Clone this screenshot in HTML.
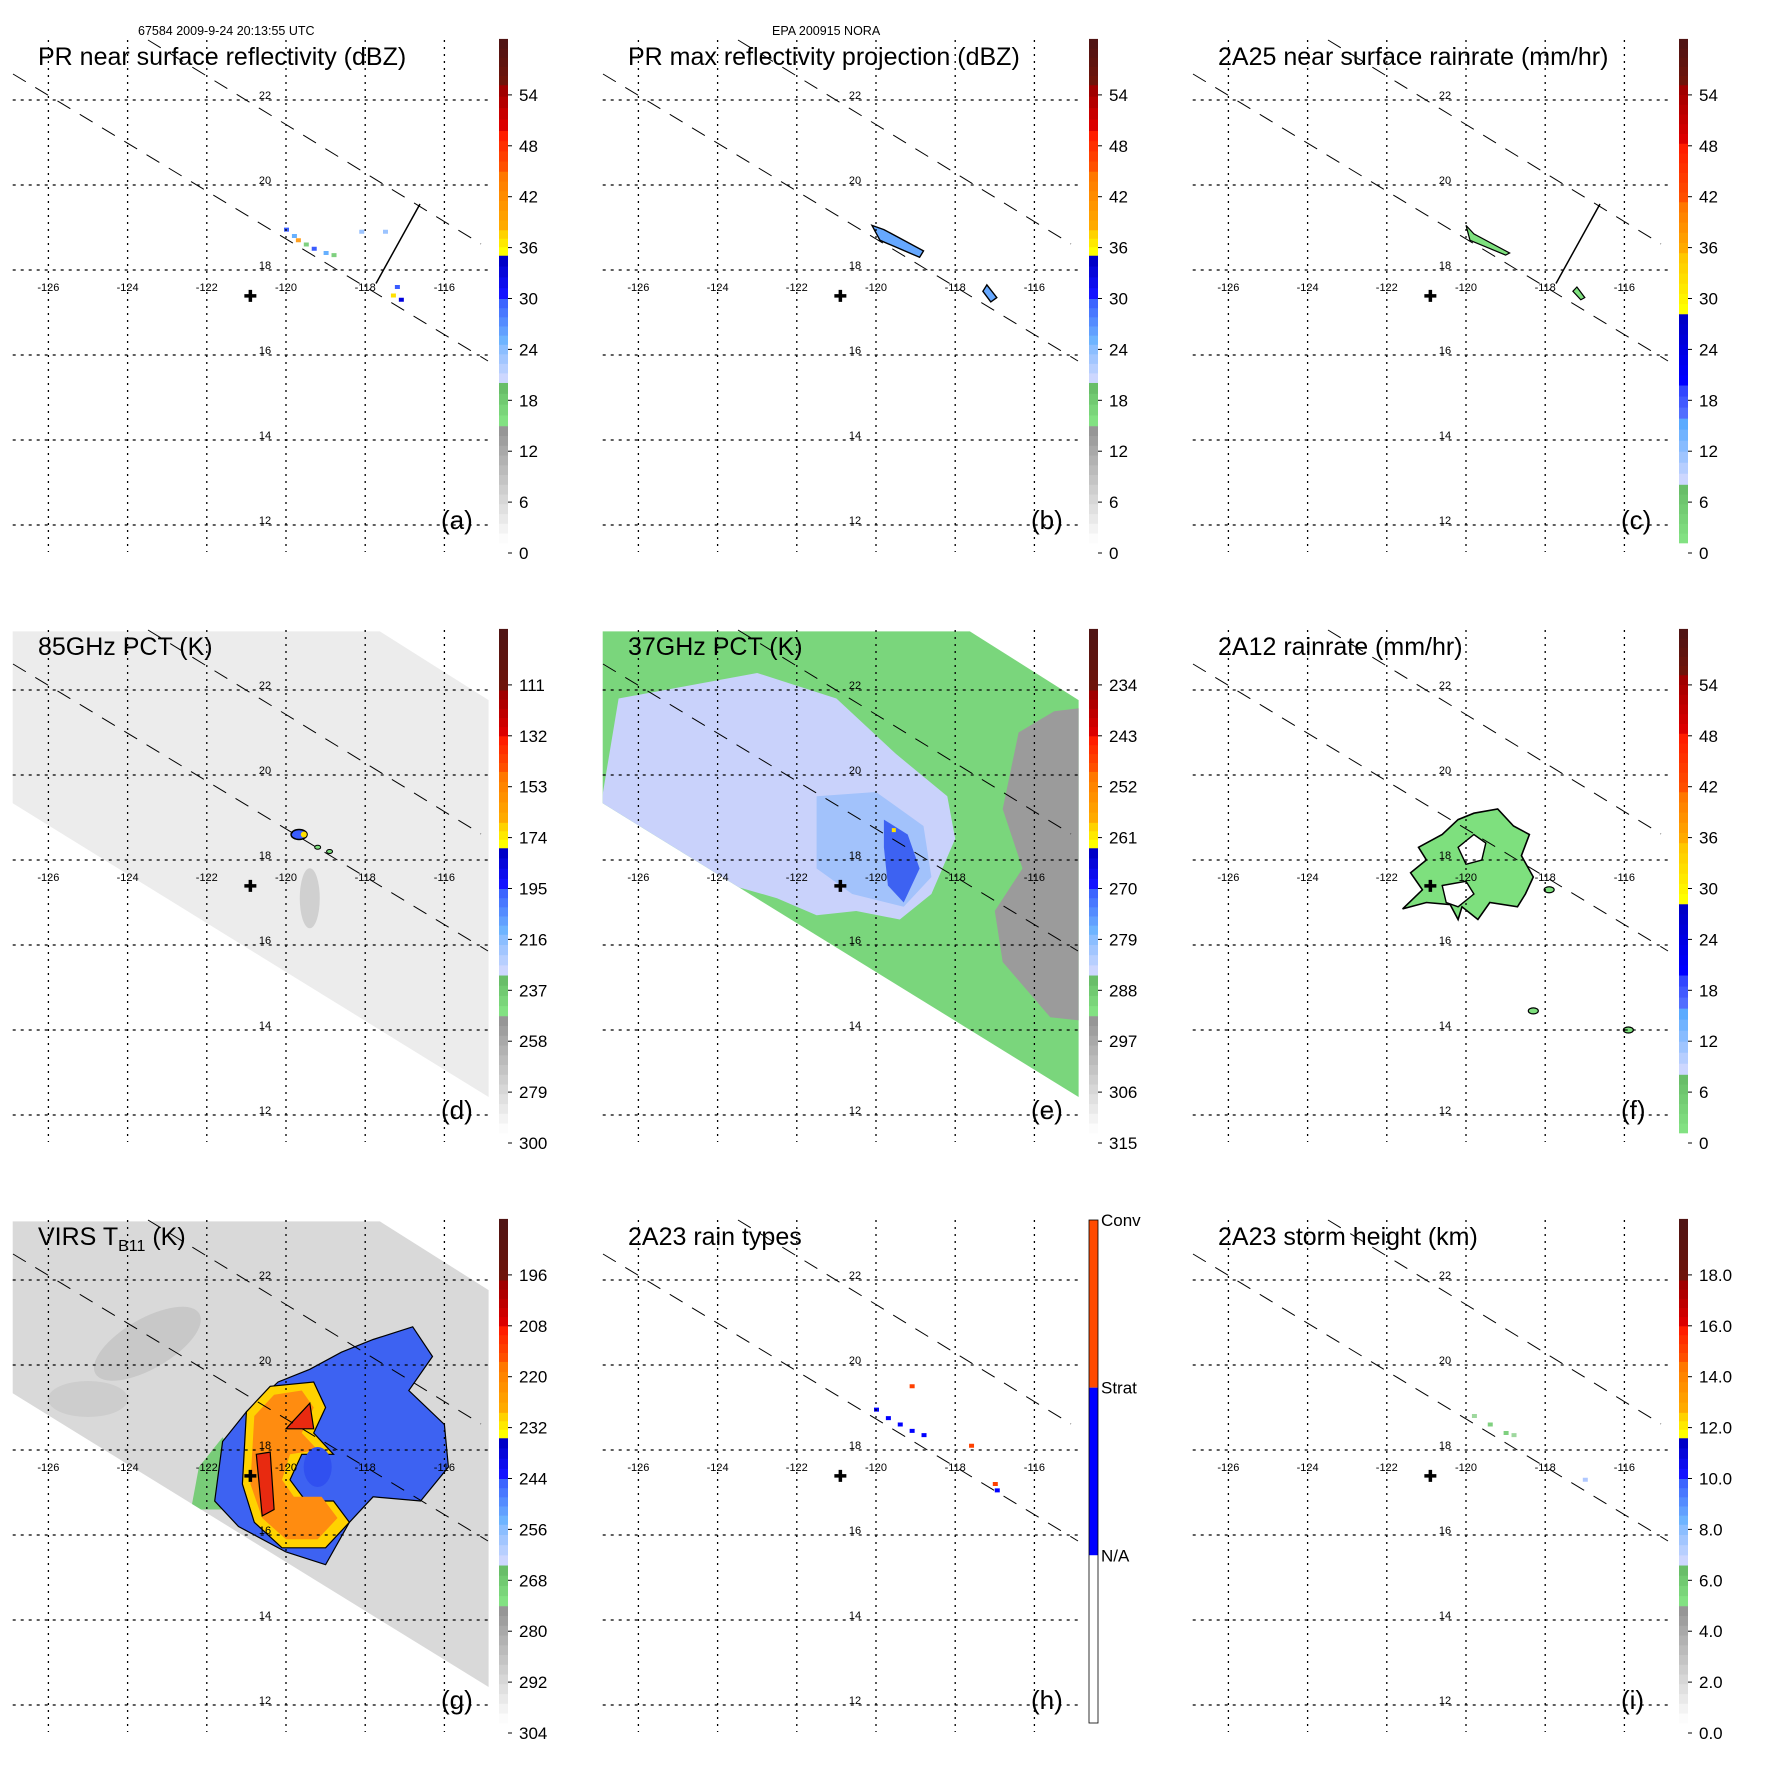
<!DOCTYPE html>
<html><head><meta charset="utf-8">
<style>
html,body{margin:0;padding:0;background:#fff;}
svg{display:block;font-family:"Liberation Sans",sans-serif;}
</style></head>
<body>
<svg id="fig" width="1771" height="1771" viewBox="0 0 1771 1771" xmlns="http://www.w3.org/2000/svg">
<text x="138" y="35" font-size="12.5">67584 2009-9-24 20:13:55 UTC</text>
<text x="772" y="35" font-size="12.5">EPA 200915 NORA</text>
</svg>
<script>
const lonTicks=[-126,-124,-122,-120,-118,-116];
const latTicks=[22,20,18,16,14,12];
const panelTitles=["PR near surface reflectivity (dBZ)","PR max reflectivity projection (dBZ)","2A25 near surface rainrate (mm/hr)","85GHz PCT (K)","37GHz PCT (K)","2A12 rainrate (mm/hr)","VIRS","2A23 rain types","2A23 storm height (km)"];
const panelLetters=["(a)","(b)","(c)","(d)","(e)","(f)","(g)","(h)","(i)"];
const cbLabels=[
 ["0","6","12","18","24","30","36","42","48","54"],
 ["0","6","12","18","24","30","36","42","48","54"],
 ["0","6","12","18","24","30","36","42","48","54"],
 ["300","279","258","237","216","195","174","153","132","111"],
 ["315","306","297","288","279","270","261","252","243","234"],
 ["0","6","12","18","24","30","36","42","48","54"],
 ["304","292","280","268","256","244","232","220","208","196"],
 null,
 ["0.0","2.0","4.0","6.0","8.0","10.0","12.0","14.0","16.0","18.0"]];
const stormCenter=[-120.9,17.39];
const swathA=[[-126.91,23.38],[-117.63,23.38],[-114.88,21.76],[-114.88,12.42],[-126.91,19.34]];
const fBlob=[[-121.2,18.3],[-120.6,18.6],[-120.2,18.95],[-119.8,19.1],[-119.2,19.2],[-118.8,18.8],[-118.4,18.6],[-118.6,18.1],[-118.3,17.6],[-118.5,17.2],[-118.7,16.9],[-119.4,17.0],[-119.7,16.6],[-120.1,16.9],[-120.2,16.6],[-120.4,16.95],[-121.0,17.0],[-121.6,16.85],[-121.1,17.3],[-121.4,17.7],[-121.0,18.0]];
const fHole1=[[-120.2,18.3],[-119.8,18.6],[-119.5,18.4],[-119.6,18.0],[-120.0,17.9]];
const fHole2=[[-120.6,17.4],[-120.0,17.5],[-119.8,17.2],[-120.2,16.9],[-120.5,17.0]];
const eLav=[[-126.5,21.8],[-123,22.4],[-121,21.8],[-119.5,20.5],[-118.2,19.5],[-118,18.5],[-118.6,17.2],[-119.4,16.6],[-120.5,16.8],[-121.5,16.7],[-122.5,17.1],[-124,17.5],[-125.5,18.3],[-127,19.0]];
const eLb=[[-121.5,19.5],[-120,19.6],[-118.8,18.8],[-118.6,17.6],[-119.3,16.9],[-120.6,17.2],[-121.5,17.8]];
const eBlue=[[-119.8,18.95],[-119.2,18.6],[-118.9,17.8],[-119.3,17.0],[-119.7,17.4],[-119.8,18.3]];
const eGray=[[-116.4,21.0],[-115.5,21.5],[-114.6,21.6],[-114.6,14.2],[-115.6,14.3],[-116.8,15.6],[-117.0,16.8],[-116.3,17.8],[-116.8,19.2]];
const gBlue=[[-121.6,18.2],[-121.0,18.9],[-120.2,19.6],[-119.4,19.9],[-118.6,20.3],[-117.8,20.6],[-116.8,20.9],[-116.3,20.2],[-116.9,19.4],[-116.0,18.6],[-115.9,17.6],[-116.6,16.8],[-117.8,16.9],[-118.4,16.3],[-119.0,15.3],[-120.0,15.6],[-121.2,16.2],[-121.8,16.8]];
const gGreen=[[-122.4,16.6],[-122.2,17.6],[-121.6,18.3],[-121.1,17.6],[-121.3,16.6]];
const gYellow=[[-121.0,18.9],[-120.4,19.5],[-119.3,19.6],[-119.0,19.0],[-119.3,18.4],[-118.8,17.9],[-119.6,17.9],[-119.9,17.3],[-119.5,16.8],[-118.8,16.8],[-118.4,16.3],[-119.0,15.7],[-120.1,15.7],[-120.8,16.3],[-121.1,17.2]];
const gOrange=[[-120.8,18.8],[-120.3,19.3],[-119.6,19.4],[-119.3,19.0],[-119.6,18.4],[-119.2,18.0],[-119.9,17.9],[-120.1,17.3],[-119.8,16.9],[-119.1,16.9],[-118.7,16.4],[-119.2,15.9],[-120.0,15.9],[-120.6,16.4],[-120.9,17.2]];
const gRed1=[[-120.75,17.9],[-120.4,17.95],[-120.3,16.6],[-120.6,16.45]];
const gRed2=[[-120.0,18.5],[-119.4,19.1],[-119.3,18.5]];
const aSpecks=[[-120.0,18.95,"#3a5cff"],[-119.8,18.8,"#66b0ff"],[-119.7,18.7,"#ffa020"],[-119.5,18.6,"#7fd07f"],[-119.3,18.5,"#3a5cff"],[-119.0,18.4,"#66b0ff"],[-118.8,18.35,"#7fd07f"],[-117.2,17.6,"#3a5cff"],[-117.1,17.3,"#0000dd"],[-117.3,17.4,"#ffe000"],[-118.1,18.9,"#9cc4ff"],[-117.5,18.9,"#9cc4ff"]];
const hSpecks=[[-120.0,18.95,"#0000ff"],[-119.7,18.75,"#0000ff"],[-119.4,18.6,"#0000ff"],[-119.1,18.45,"#0000ff"],[-118.8,18.35,"#0000ff"],[-119.1,19.5,"#ff4000"],[-117.0,17.2,"#ff4000"],[-116.95,17.05,"#0000ff"],[-117.6,18.1,"#ff4000"]];
const iSpecks=[[-119.8,18.8,"#9ed89e"],[-119.4,18.6,"#7fd07f"],[-119.0,18.4,"#7fd07f"],[-118.8,18.35,"#9ed89e"],[-117.0,17.3,"#b0c8ff"]];

const NS="http://www.w3.org/2000/svg";
const svg=document.getElementById('fig');
function X(lon){return 48.4+(lon+126)*39.6;}
function Y(lat){return 100+(22-lat)*42.5;}
function el(tag,attrs,parent){const e=document.createElementNS(NS,tag);for(const k in attrs)e.setAttribute(k,attrs[k]);(parent||svg).appendChild(e);return e;}
function pts(arr){return arr.map(p=>X(p[0]).toFixed(1)+","+Y(p[1]).toFixed(1)).join(" ");}
function lerp(a,b,t){return a.map((v,i)=>Math.round(v+(b[i]-v)*t));}
function rgb(c){return "rgb("+c.join(",")+")";}

const palettes={
 dbz:[[0.2,2.5,[252,252,252],[150,150,150]],[2.5,3.35,[130,225,130],[105,190,105]],[3.35,4.1,[205,215,255],[140,190,255]],[4.1,5.0,[110,180,255],[60,100,255]],[5.0,5.85,[20,20,255],[0,0,200]],[5.85,6.35,[255,255,0],[255,210,0]],[6.35,7.5,[255,170,0],[255,120,0]],[7.5,8.3,[255,80,0],[255,30,0]],[8.3,9.2,[220,0,0],[160,0,0]],[9.2,10.1,[110,20,10],[80,20,20]]],
 rain:[[0.2,1.35,[130,225,130],[105,190,105]],[1.35,2.65,[205,215,255],[90,170,255]],[2.65,3.3,[80,110,255],[50,70,255]],[3.3,4.7,[0,0,255],[0,0,200]],[4.7,5.9,[255,255,0],[255,200,0]],[5.9,6.9,[255,170,0],[255,120,0]],[6.9,8.05,[255,80,0],[255,30,0]],[8.05,9.2,[220,0,0],[160,0,0]],[9.2,10.1,[110,20,10],[80,20,20]]],
 tb:[[0.2,2.5,[252,252,252],[150,150,150]],[2.5,3.3,[130,225,130],[105,190,105]],[3.3,4.1,[205,215,255],[140,190,255]],[4.1,5.0,[110,180,255],[60,100,255]],[5.0,5.8,[20,20,255],[0,0,200]],[5.8,6.3,[255,255,0],[255,210,0]],[6.3,7.3,[255,170,0],[255,120,0]],[7.3,8.0,[255,80,0],[255,30,0]],[8.0,8.9,[220,0,0],[160,0,0]],[8.9,10.1,[110,20,10],[80,20,20]]]
};
const panelPal=["dbz","dbz","rain","tb","tb","rain","tb",null,"tb"];

function cbY(i){return 553-50.9*i;}

for(let p=0;p<9;p++){
 const ox=(p%3)*590, oy=Math.floor(p/3)*590;
 const g=el('g',{transform:`translate(${ox},${oy})`});
 
 
 const cid='clip'+p;
 const cp=el('clipPath',{id:cid},g);
 el('rect',{x:12.7,y:40,width:476,height:512},cp);
 const mg=el('g',{'clip-path':`url(#${cid})`},g);
 
 
 if(p===3||p===4||p===6){
  const sid='sw'+p;
  const sc=el('clipPath',{id:sid},g);
  el('polygon',{points:pts(swathA)},sc);
  const bg={3:"#ececec",4:"#7ad67c",6:"#d9d9d9"}[p];
  const sw=el('polygon',{points:pts(swathA),fill:bg},mg);
  
  
  const sg=el('g',{'clip-path':`url(#${sid})`},mg);
  if(p===3){
   el('ellipse',{cx:X(-119.4),cy:Y(17.1),rx:10,ry:30,fill:"#c4c4c4",opacity:0.7},sg);
   el('ellipse',{cx:X(-119.67),cy:Y(18.6),rx:8,ry:5,fill:"#3a5cff",stroke:"#000","stroke-width":1.5},sg);
   el('circle',{cx:X(-119.55),cy:Y(18.6),r:3,fill:"#ffe000"},sg);
   el('ellipse',{cx:X(-119.2),cy:Y(18.3),rx:3,ry:2,fill:"#7ee07e",stroke:"#000","stroke-width":1},sg);
   el('ellipse',{cx:X(-118.9),cy:Y(18.2),rx:3,ry:2,fill:"#7ee07e",stroke:"#000","stroke-width":1},sg);
  }
  if(p===4){
   el('polygon',{points:pts(eGray),fill:"#9b9b9b"},sg);
   el('polygon',{points:pts(eLav),fill:"#c9d2fb"},sg);
   el('polygon',{points:pts(eLb),fill:"#a2c2fb"},sg);
   el('polygon',{points:pts(eBlue),fill:"#3d62f2"},sg);
   el('rect',{x:X(-119.6),y:Y(18.75),width:4,height:4,fill:"#ffe000"},sg);
  }
  if(p===6){
   el('ellipse',{cx:X(-123.5),cy:Y(20.5),rx:60,ry:25,fill:"#bdbdbd",opacity:0.6,transform:`rotate(-30 ${X(-123.5)} ${Y(20.5)})`},sg);
   el('ellipse',{cx:X(-125),cy:Y(19.2),rx:40,ry:18,fill:"#c4c4c4",opacity:0.6},sg);
   el('polygon',{points:pts(gGreen),fill:"#78cc78"},sg);
   el('polygon',{points:pts(gBlue),fill:"#3d62f2",stroke:"#000","stroke-width":1.2},sg);
   el('polygon',{points:pts(gYellow),fill:"#ffd200",stroke:"#000","stroke-width":1.2},sg);
   el('polygon',{points:pts(gOrange),fill:"#ff8c10"},sg);
   el('polygon',{points:pts(gRed1),fill:"#e82a10",stroke:"#000","stroke-width":1.2},sg);
   el('polygon',{points:pts(gRed2),fill:"#e82a10",stroke:"#000","stroke-width":1.2},sg);
   el('ellipse',{cx:X(-119.2),cy:Y(17.6),rx:14,ry:20,fill:"#3050f0"},sg);
  }
 }
 if(p===5){
  el('polygon',{points:pts(fBlob),fill:"#7ee07e",stroke:"#000","stroke-width":1.6},mg);
  el('polygon',{points:pts(fHole1),fill:"#fff",stroke:"#000","stroke-width":1.4},mg);
  el('polygon',{points:pts(fHole2),fill:"#fff",stroke:"#000","stroke-width":1.4},mg);
  [[-117.9,17.3],[-118.3,14.45],[-115.9,14.0]].forEach(c=>{el('ellipse',{cx:X(c[0]),cy:Y(c[1]),rx:5,ry:3,fill:"#7ee07e",stroke:"#000","stroke-width":1.2},mg);});
 }
 if(p===1){
  el('polygon',{points:pts([[-120.1,19.05],[-119.8,18.95],[-118.8,18.45],[-118.9,18.3],[-119.9,18.7]]),fill:"#66a8ff",stroke:"#000","stroke-width":1.4},mg);
  el('polygon',{points:pts([[-117.2,17.65],[-116.95,17.35],[-117.1,17.25],[-117.3,17.5]]),fill:"#66a8ff",stroke:"#000","stroke-width":1.4},mg);
 }
 if(p===2){
  el('polygon',{points:pts([[-120.0,19.05],[-119.8,18.85],[-118.9,18.4],[-119.0,18.35],[-119.9,18.7]]),fill:"#7ee07e",stroke:"#000","stroke-width":1.2},mg);
  el('polygon',{points:pts([[-117.2,17.6],[-117.0,17.35],[-117.1,17.3],[-117.3,17.5]]),fill:"#7ee07e",stroke:"#000","stroke-width":1.2},mg);
 }
 const specks={0:aSpecks,7:hSpecks,8:iSpecks}[p];
 if(specks){specks.forEach(s=>{el('rect',{x:X(s[0])-2,y:Y(s[1])-2,width:5,height:4,fill:s[2]},mg);});}
 lonTicks.forEach(lon=>{const l=el('line',{x1:X(lon),x2:X(lon),y1:40,y2:552,stroke:"#000","stroke-width":1.3,"stroke-dasharray":"2,5"},g);});
 latTicks.forEach(lat=>{const l=el('line',{x1:12.7,x2:490,y1:Y(lat),y2:Y(lat),stroke:"#000","stroke-width":1.3,"stroke-dasharray":"3,5"},g);});
 const d1=el('line',{x1:148,y1:40,x2:481,y2:244,stroke:"#000","stroke-width":1,"stroke-dasharray":"15,11"},g);
 
 const d2=el('line',{x1:13,y1:74,x2:488,y2:361,stroke:"#000","stroke-width":1,"stroke-dasharray":"15,11"},g);
 
 if(p===0||p===2){const cs=el('line',{x1:420,y1:204,x2:376,y2:283.5,stroke:"#000","stroke-width":1.5},g);}
 lonTicks.forEach(lon=>{const t=el('text',{x:X(lon),y:291,'font-size':11,'text-anchor':'middle'},g);t.textContent=String(lon);});
 latTicks.forEach(lat=>{const t=el('text',{x:265,y:Y(lat)-1,'font-size':11,'text-anchor':'middle'},g);t.textContent=String(lat);});
 const cx=X(stormCenter[0]),cy=Y(stormCenter[1]);
 const cr=el('path',{d:`M${cx-6},${cy}H${cx+6}M${cx},${cy-6}V${cy+6}`,stroke:"#000","stroke-width":3.5},g);
 
 const tt=el('text',{x:38,y:65,'font-size':25},g);
 
 if(p===6){tt.textContent="VIRS T";const s=el('tspan',{'font-size':16,dy:6},tt);s.textContent="B11";const s2=el('tspan',{dy:-6},tt);s2.textContent=" (K)";}
 else tt.textContent=panelTitles[p];
 const lt=el('text',{x:441,y:529,'font-size':26},g);lt.textContent=panelLetters[p];
 
 const cb=el('g',{},g);
 
 if(panelPal[p]){
  palettes[panelPal[p]].forEach(seg=>{
   const n=Math.max(2,Math.round((seg[1]-seg[0])*5));
   for(let k=0;k<n;k++){
    const a=seg[0]+(seg[1]-seg[0])*k/n, b=seg[0]+(seg[1]-seg[0])*(k+1)/n;
    el('rect',{x:499,y:cbY(b),width:9,height:cbY(a)-cbY(b)+0.5,fill:rgb(lerp(seg[2],seg[3],n>1?k/(n-1):0))},cb);
   }
  });
  cbLabels[p].forEach((lab,i)=>{
   el('line',{x1:508,x2:512,y1:cbY(i),y2:cbY(i),stroke:"#000","stroke-width":1},cb);
   const t=el('text',{x:519,y:cbY(i)+6,'font-size':17},cb);t.textContent=lab;
   
  });
 } else {
  const top=40,bot=543,h=(bot-top)/3;
  el('rect',{x:499,y:top,width:9,height:h,fill:"#ff4a00"},cb);
  el('rect',{x:499,y:top+h,width:9,height:h,fill:"#0000ff"},cb);
  el('rect',{x:499,y:top+2*h,width:9,height:h,fill:"#fff"},cb);
  el('rect',{x:499,y:top,width:9,height:bot-top,fill:"none",stroke:"#000","stroke-width":0.8},cb);
  [["Conv",top],["Strat",top+h],["N/A",top+2*h]].forEach(c=>{const t=el('text',{x:511,y:c[1]+6,'font-size':17},cb);t.textContent=c[0];});
 }
}
</script>
</body></html>
